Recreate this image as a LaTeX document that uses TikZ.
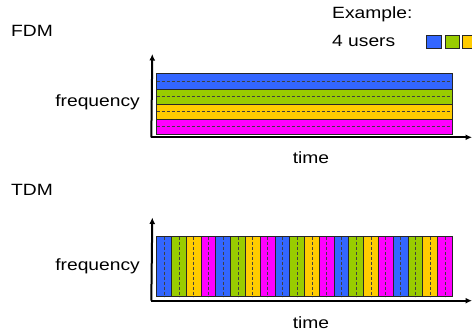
\documentclass[tikz,border=0pt]{standalone}
\usepackage{fontspec}
\setmainfont{Liberation Sans}[FakeStretch=1.18]
\usetikzlibrary{arrows.meta}
\definecolor{cblue}{HTML}{3366FF}
\definecolor{cgreen}{HTML}{99CC00}
\definecolor{cyellow}{HTML}{FFCC00}
\definecolor{cmag}{HTML}{FF00FF}
\tikzset{
  lbl/.style={inner sep=0pt, font=\fontsize{16.3}{19}\selectfont},
  axis/.style={line width=2pt, -{Latex[length=6.5pt,width=6pt]}},
  band/.style={draw=black!85, line width=0.8pt},
  sep/.style={draw=black!75, line width=0.7pt, dash pattern=on 3pt off 2pt},
  legendbox/.style={draw=black!85, line width=1pt}
}
\begin{document}
\begin{tikzpicture}[x=1pt,y=-1pt]
\useasboundingbox (0,0) rectangle (472,333);
% labels
\node[lbl, anchor=base west] (fdm) at (11,36.7) {FDM};
\node[lbl, anchor=base west] (tdm) at (11,195) {TDM};
\node[lbl, anchor=base west] (ex) at (332,18.3) {Example:};
\node[lbl, anchor=base west] (users) at (332,46.7) {4 users};
\node[lbl, anchor=base east] (f1) at (140,106) {frequency};
\node[lbl, anchor=base east] (f2) at (140,270) {frequency};
\node[lbl, anchor=base] (t1) at (311,163) {time};
\node[lbl, anchor=base] (t2) at (311,328) {time};
% legend squares
\fill[cblue] (426.7,35) rectangle (441.7,48.3);
\draw[legendbox] (426.7,35) rectangle (441.7,48.3);
\fill[cgreen] (445,35) rectangle (459.3,48.3);
\draw[legendbox] (445,35) rectangle (459.3,48.3);
\fill[cyellow] (462.7,35) rectangle (477,48.3);
\draw[legendbox] (462.7,35) rectangle (477,48.3);
% FDM bands
\foreach \ya/\yb/\c in {73.3/89.3/cblue, 89.3/104/cgreen, 104/119/cyellow, 119/134/cmag}{
  \fill[\c] (156.7,\ya) rectangle (452.3,\yb);
  \draw[sep] (156.7,{(\ya+\yb)/2}) -- (452.3,{(\ya+\yb)/2});
  \draw[band] (156.7,\ya) rectangle (452.3,\yb);
}
% TDM slots
\foreach \i in {0,...,19}{
  \pgfmathtruncatemacro{\k}{mod(\i,4)}
  \ifcase\k \def\c{cblue}\or \def\c{cgreen}\or \def\c{cyellow}\or \def\c{cmag}\fi
  \pgfmathsetmacro{\xa}{156.7+\i*14.78}
  \pgfmathsetmacro{\xb}{\xa+14.78}
  \fill[\c] (\xa,236.7) rectangle (\xb,296.7);
  \draw[sep] ({(\xa+\xb)/2},236.7) -- ({(\xa+\xb)/2},296.7);
  \draw[band] (\xa,236.7) rectangle (\xb,296.7);
}
% axes
\coordinate (o1) at (152.3,137.3);
\coordinate (y1) at (152.3,54);
\coordinate (x1) at (472,137.3);
\coordinate (o2) at (152.3,300.7);
\coordinate (y2) at (152.3,217.5);
\coordinate (x2) at (472,300.7);
\draw[axis] ([xshift=-1pt]o1) -- (y1);
\draw[axis] ([xshift=-1pt]o1) -- (x1);
\draw[axis] ([xshift=-1pt]o2) -- (y2);
\draw[axis] ([xshift=-1pt]o2) -- (x2);
\end{tikzpicture}
\end{document}
